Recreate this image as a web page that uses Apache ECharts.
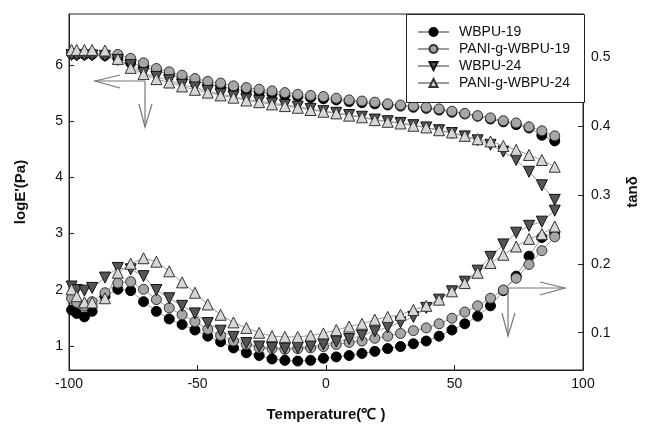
<!DOCTYPE html>
<html>
<head>
<meta charset="utf-8">
<script src="https://cdn.jsdelivr.net/npm/echarts@6/dist/echarts.min.js"></script>
<style>
  html, body { margin: 0; padding: 0; background: #fff; }
  #chart { width: 648px; height: 429px; }
</style>
</head>
<body>
<div id="chart"></div>
<script>
// 温度 (℃)
var temps = [-99, -97, -94, -91, -86, -81, -76, -71, -66, -61, -56, -51, -46, -41, -36, -31, -26, -21, -16, -11,
             -6, -1, 4, 9, 14, 19, 24, 29, 34, 39, 44, 49, 54, 59, 64, 69, 74, 79, 84, 89];

// logE' (左轴)
var logE_wbpu19 = [6.20, 6.19, 6.19, 6.19, 6.17, 6.12, 6.04, 5.97, 5.90, 5.83, 5.77, 5.71, 5.66, 5.62, 5.58, 5.55, 5.52, 5.49, 5.46, 5.44,
                   5.42, 5.40, 5.38, 5.35, 5.33, 5.31, 5.29, 5.27, 5.25, 5.23, 5.20, 5.16, 5.13, 5.09, 5.04, 4.99, 4.94, 4.88, 4.75, 4.65];
var logE_pani19 = [6.21, 6.21, 6.21, 6.21, 6.20, 6.19, 6.12, 6.04, 5.94, 5.88, 5.82, 5.76, 5.71, 5.68, 5.63, 5.60, 5.57, 5.54, 5.51, 5.48,
                   5.46, 5.44, 5.41, 5.38, 5.36, 5.34, 5.31, 5.29, 5.27, 5.25, 5.22, 5.18, 5.14, 5.10, 5.06, 5.01, 4.97, 4.90, 4.83, 4.74];
var logE_wbpu24 = [6.18, 6.17, 6.17, 6.17, 6.16, 6.09, 6.00, 5.86, 5.79, 5.73, 5.65, 5.60, 5.54, 5.48, 5.44, 5.39, 5.36, 5.32, 5.29, 5.26,
                   5.22, 5.18, 5.15, 5.11, 5.08, 5.03, 5.00, 4.97, 4.93, 4.89, 4.84, 4.79, 4.73, 4.66, 4.58, 4.46, 4.31, 4.10, 3.86, 3.60];
var logE_pani24 = [6.27, 6.27, 6.27, 6.27, 6.26, 6.11, 5.95, 5.84, 5.75, 5.69, 5.62, 5.56, 5.51, 5.46, 5.42, 5.37, 5.34, 5.30, 5.27, 5.24,
                   5.20, 5.17, 5.14, 5.10, 5.07, 5.02, 4.99, 4.96, 4.92, 4.89, 4.84, 4.80, 4.74, 4.68, 4.64, 4.56, 4.49, 4.40, 4.31, 4.19];

// tanδ (右轴)
var tan_wbpu19 = [0.133, 0.128, 0.123, 0.131, 0.153, 0.163, 0.161, 0.145, 0.131, 0.120, 0.112, 0.104, 0.095, 0.087, 0.078, 0.071, 0.067, 0.062, 0.060, 0.059,
                  0.060, 0.063, 0.065, 0.067, 0.070, 0.073, 0.077, 0.080, 0.084, 0.088, 0.095, 0.104, 0.113, 0.124, 0.139, 0.161, 0.182, 0.211, 0.238, 0.245];
var tan_pani19 = [0.150, 0.144, 0.139, 0.145, 0.158, 0.172, 0.174, 0.163, 0.148, 0.136, 0.126, 0.116, 0.105, 0.096, 0.088, 0.083, 0.078, 0.077, 0.076, 0.077,
                  0.078, 0.080, 0.083, 0.086, 0.088, 0.092, 0.095, 0.099, 0.103, 0.107, 0.113, 0.121, 0.130, 0.139, 0.150, 0.162, 0.179, 0.199, 0.219, 0.239];
var tan_wbpu24 = [0.167, 0.162, 0.161, 0.165, 0.180, 0.194, 0.192, 0.182, 0.162, 0.150, 0.139, 0.128, 0.114, 0.103, 0.094, 0.085, 0.080, 0.078, 0.077, 0.078,
                  0.080, 0.083, 0.087, 0.091, 0.096, 0.102, 0.108, 0.115, 0.123, 0.136, 0.148, 0.160, 0.174, 0.190, 0.210, 0.228, 0.245, 0.255, 0.261, 0.277];
var tan_pani24 = [0.163, 0.153, 0.144, 0.144, 0.150, 0.187, 0.200, 0.208, 0.203, 0.189, 0.173, 0.158, 0.141, 0.126, 0.115, 0.107, 0.100, 0.095, 0.094, 0.094,
                  0.096, 0.099, 0.104, 0.109, 0.113, 0.119, 0.123, 0.126, 0.133, 0.139, 0.148, 0.160, 0.172, 0.187, 0.201, 0.213, 0.225, 0.236, 0.243, 0.254];

// 刻度
var leftTicks = [1, 2, 3, 4, 5, 6];
var rightTicks = [0.1, 0.2, 0.3, 0.4, 0.5];

var fontFamily = 'Liberation Sans, Arial, sans-serif';
var axisColor = '#222';
var lineGray = '#9a9a9a';

function pairs(ys) {
    return temps.map(function (t, i) { return [t, ys[i]]; });
}

// 四种样品的标记样式
var styles = {
    'WBPU-19':        { symbol: 'circle',   rotate: 0,   size: 10, fill: '#000000', border: '#000000' },
    'PANI-g-WBPU-19': { symbol: 'circle',   rotate: 0,   size: 10, fill: '#a6a6a6', border: '#333333' },
    'WBPU-24':        { symbol: 'triangle', rotate: 180, size: 11, fill: '#555555', border: '#111111' },
    'PANI-g-WBPU-24': { symbol: 'triangle', rotate: 0,   size: 11, fill: '#d6d6d6', border: '#333333' }
};

function makeSeries(name, data, axisIdx) {
    var s = styles[name];
    return {
        name: name,
        type: 'line',
        yAxisIndex: axisIdx,
        data: pairs(data),
        symbol: s.symbol,
        symbolSize: s.size,
        symbolRotate: s.rotate,
        showAllSymbol: true,
        itemStyle: { color: s.fill, borderColor: s.border, borderWidth: 1 },
        lineStyle: { color: lineGray, width: 1 },
        emphasis: { disabled: true }
    };
}

var option = {
    animation: false,
    backgroundColor: '#fff',
    textStyle: { fontFamily: fontFamily },
    grid: {
        left: 69, right: 64, top: 14, bottom: 59,
        show: true, borderColor: axisColor, borderWidth: 1, backgroundColor: 'transparent'
    },
    legend: {
        orient: 'vertical',
        left: 417, top: 25,
        padding: 0,
        z: 20,
        itemWidth: 31, itemHeight: 10,
        itemGap: 3,
        data: ['WBPU-19', 'PANI-g-WBPU-19', 'WBPU-24', 'PANI-g-WBPU-24'],
        textStyle: { fontFamily: fontFamily, fontSize: 14, color: '#111', lineHeight: 14, padding: [0, 0, 0, 5] }
    },
    xAxis: {
        type: 'value',
        min: -100, max: 100, interval: 50,
        name: 'Temperature(℃ )',
        nameLocation: 'middle',
        nameGap: 37,
        nameTextStyle: { fontFamily: fontFamily, fontSize: 15, fontWeight: 'bold', color: '#111' },
        axisLine: { show: true, onZero: false, lineStyle: { color: axisColor } },
        axisTick: { show: true, inside: true, length: 5, lineStyle: { color: axisColor } },
        axisLabel: { margin: 7, fontSize: 14, color: '#111', fontFamily: fontFamily },
        splitLine: { show: false }
    },
    yAxis: [
        {
            type: 'value',
            position: 'left',
            min: 0.57, max: 6.91,
            name: "logE'(Pa)",
            nameLocation: 'middle',
            nameGap: 41,
            nameRotate: 90,
            nameTextStyle: { fontFamily: fontFamily, fontSize: 15, fontWeight: 'bold', color: '#111' },
            axisLine: { show: true, onZero: false, lineStyle: { color: axisColor } },
            axisTick: { show: true, inside: true, length: 5, customValues: leftTicks, lineStyle: { color: axisColor } },
            axisLabel: { margin: 6, fontSize: 14, color: '#111', fontFamily: fontFamily, customValues: leftTicks },
            splitLine: { show: false }
        },
        {
            type: 'value',
            position: 'right',
            min: 0.046, max: 0.562,
            name: 'tanδ',
            nameLocation: 'middle',
            nameGap: 42,
            nameRotate: 90,
            nameTextStyle: { fontFamily: fontFamily, fontSize: 15, fontWeight: 'bold', color: '#111' },
            axisLine: { show: true, onZero: false, lineStyle: { color: axisColor } },
            axisTick: { show: true, inside: true, length: 5, customValues: rightTicks, lineStyle: { color: axisColor } },
            axisLabel: { margin: 8, fontSize: 14, color: '#111', fontFamily: fontFamily, customValues: rightTicks,
                         formatter: function (v) { return v.toFixed(1); } },
            splitLine: { show: false }
        }
    ],
    series: [
        makeSeries('WBPU-19', logE_wbpu19, 0),
        makeSeries('PANI-g-WBPU-19', logE_pani19, 0),
        makeSeries('WBPU-24', logE_wbpu24, 0),
        makeSeries('PANI-g-WBPU-24', logE_pani24, 0),
        makeSeries('WBPU-19', tan_wbpu19, 1),
        makeSeries('PANI-g-WBPU-19', tan_pani19, 1),
        makeSeries('WBPU-24', tan_wbpu24, 1),
        makeSeries('PANI-g-WBPU-24', tan_pani24, 1)
    ],
    graphic: [
        // 图例边框
        { type: 'rect', left: 406, top: 14, z: 10,
          shape: { width: 178, height: 88 },
          style: { fill: '#fff', stroke: axisColor, lineWidth: 1 } },
        // 左侧箭头 (指向 logE')
        { type: 'polyline', z: 10, shape: { points: [[145, 81], [95, 81]] }, style: { stroke: '#777', lineWidth: 1.2, fill: null } },
        { type: 'polyline', z: 10, shape: { points: [[120, 75], [95, 81], [120, 88]] }, style: { stroke: '#777', lineWidth: 1.2, fill: null } },
        { type: 'polyline', z: 10, shape: { points: [[145, 81], [145, 127]] }, style: { stroke: '#777', lineWidth: 1.2, fill: null } },
        { type: 'polyline', z: 10, shape: { points: [[139, 104], [145, 127], [152, 104]] }, style: { stroke: '#777', lineWidth: 1.2, fill: null } },
        // 右侧箭头 (指向 tanδ)
        { type: 'polyline', z: 10, shape: { points: [[508, 288], [565, 288]] }, style: { stroke: '#777', lineWidth: 1.2, fill: null } },
        { type: 'polyline', z: 10, shape: { points: [[540, 282], [565, 288], [540, 295]] }, style: { stroke: '#777', lineWidth: 1.2, fill: null } },
        { type: 'polyline', z: 10, shape: { points: [[508, 288], [508, 336]] }, style: { stroke: '#777', lineWidth: 1.2, fill: null } },
        { type: 'polyline', z: 10, shape: { points: [[502, 313], [508, 336], [515, 313]] }, style: { stroke: '#777', lineWidth: 1.2, fill: null } }
    ]
};

var chart = echarts.init(document.getElementById('chart'), null, { renderer: 'canvas' });
chart.setOption(option);
</script>
</body>
</html>
